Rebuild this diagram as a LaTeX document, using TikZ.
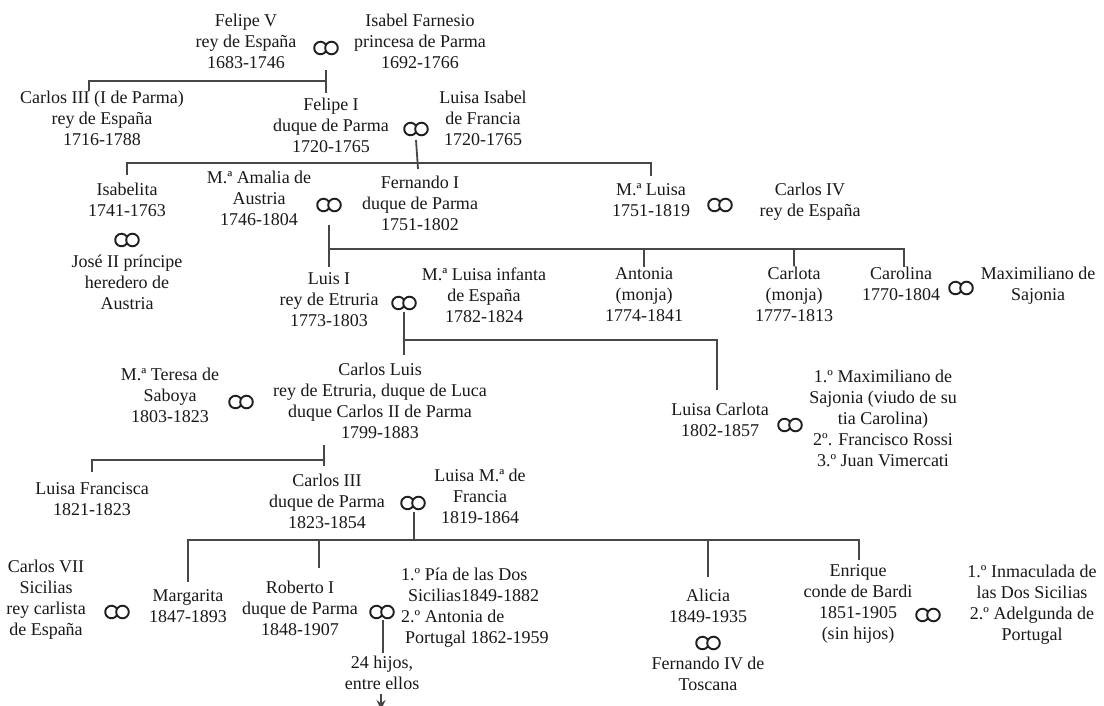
\documentclass[tikz,border=0pt]{standalone}
\usepackage{fontspec}
\setmainfont{Liberation Serif}
\usetikzlibrary{arrows.meta,calc}
\begin{document}
\begin{tikzpicture}[x=1pt,y=-1pt,
  every node/.style={font=\fontsize{18}{21}\selectfont, text=black!90, align=center, inner sep=0pt,
    execute at begin node=\strut, execute at end node=\strut},
  oo/.style={minimum width=24pt, minimum height=14pt, execute at begin node={}, execute at end node={}},
  conn/.style={draw=black!72, line width=1.8pt},
  oostroke/.style={draw=black!88, line width=1.9pt}]
\fill[white] (0,0) rectangle (1104,706);
\useasboundingbox (0,0) rectangle (1104,706);

% generation 1
\node (felipeV) at (246,44.5) {Felipe V\\rey de España\\1683-1746};
\node[oo] (m1) at (326,48) {};
\node (isabelF) at (420,44.5) {Isabel Farnesio\\princesa de Parma\\1692-1766};

% generation 2
\node (carlosIII) at (102,121.5) {Carlos III (I de Parma)\\rey de España\\1716-1788};
\node (felipeI) at (331,128) {Felipe I\\duque de Parma\\1720-1765};
\node[oo] (m2) at (416,129) {};
\node (luisaIsabel) at (483,121.5) {Luisa Isabel\\de Francia\\1720-1765};

% generation 3
\node (isabelita) at (127,203) {Isabelita\\1741-1763};
\node[oo] (m3) at (127,240) {};
\node (jose) at (127,285) {José II príncipe\\heredero de\\Austria};
\node (amalia) at (259,201) {M.ª Amalia de\\Austria\\1746-1804};
\node[oo] (m4) at (329,205) {};
\node (fernandoI) at (420,206) {Fernando I\\duque de Parma\\1751-1802};
\node (mluisa) at (651,203) {M.ª Luisa\\1751-1819};
\node[oo] (m6) at (720,205) {};
\node (carlosIV) at (810,203) {Carlos IV\\rey de España};

% generation 4
\node (luisI) at (329,302.5) {Luis I\\rey de Etruria\\1773-1803};
\node[oo] (m5) at (404,303) {};
\node (mluisaInf) at (484,298.5) {M.ª Luisa infanta\\de España\\1782-1824};
\node (antonia) at (644,297.5) {Antonia\\(monja)\\1774-1841};
\node (carlota) at (794,297.5) {Carlota\\(monja)\\1777-1813};
\node (carolina) at (901,286.5) {Carolina\\1770-1804};
\node[oo] (m7) at (961,288) {};
\node (maxi) at (1038,287) {Maximiliano de\\Sajonia};

% generation 5
\node (mteresa) at (170,398) {M.ª Teresa de\\Saboya\\1803-1823};
\node[oo] (m8) at (241,402) {};
\node (carlosLuis) at (380,403.5) {Carlos Luis\\rey de Etruria, duque de Luca\\duque Carlos II de Parma\\1799-1883};
\node (luisaCarlota) at (720,422.5) {Luisa Carlota\\1802-1857};
\node[oo] (m10) at (790,425) {};
\node (maridos) at (883,421.5) {1.º Maximiliano de\\Sajonia (viudo de su\\tia Carolina)\\2º. Francisco Rossi\\3.º Juan Vimercati};

% generation 6
\node (luisaFrancisca) at (92,502) {Luisa Francisca\\1821-1823};
\node (carlosIIIb) at (327,504) {Carlos III\\duque de Parma\\1823-1854};
\node[oo] (m9) at (413,503) {};
\node (luisaMa) at (480,499) {Luisa M.ª de\\Francia\\1819-1864};

% generation 7
\node (carlosVII) at (46,600.5) {Carlos VII\\Sicilias\\rey carlista\\de España};
\node[oo] (m11) at (117,612) {};
\node (margarita) at (188,609) {Margarita\\1847-1893};
\node (roberto) at (300,611.5) {Roberto I\\duque de Parma\\1848-1907};
\node[oo] (m12) at (382,612) {};
\node[anchor=west, align=left] (pia) at (401,608.5) {1.º Pía de las Dos\\\hspace*{7pt}Sicilias1849-1882\\2.º Antonia de\\\hspace*{4pt}Portugal 1862-1959};
\node (hijos) at (382,676) {24 hijos,\\entre ellos};
\node (alicia) at (708,609) {Alicia\\1849-1935};
\node[oo] (m13) at (708,643) {};
\node (fernandoIV) at (708,676.5) {Fernando IV de\\Toscana};
\node (enrique) at (858,605.5) {Enrique\\conde de Bardi\\1851-1905\\(sin hijos)};
\node[oo] (m14) at (928,615) {};
\node (inmaculada) at (1032,605.5) {1.º Inmaculada de\\las Dos Sicilias\\2.º Adelgunda de\\Portugal};

% marriage signs
\foreach \i in {1,...,14}{
  \draw[oostroke, shift={(m\i.center)}] (5.5,0) circle (6.3pt)
    (-5.5,0) ++(34:6.3) arc (34:326:6.3);
}

% descent lines
\draw[conn] ($(m1)+(0,22)$) -- ($(m1 |- felipeI.north)+(0,-4)$);
\coordinate (b1) at ($(m1)+(0,33)$);
\draw[conn] (b1) -| (89,91);

\draw[conn] ($(m2)+(0,11)$) -- (418,169);
\draw[conn] (127,175) |- (651,163) -- (651,176);

\draw[conn] ($(m4)+(0,20)$) -- (329,267);
\draw[conn] (329,249) -| (904,267);
\draw[conn] (644,249) -- (644,267);
\draw[conn] (794,249) -- (794,266);

\draw[conn] ($(m5)+(0,9)$) -- (404,355);
\draw[conn] (404,340) -| (717,390);

\draw[conn] (324,445) -- (324,466);
\draw[conn] (324,460) -| (92,472);

\draw[conn] ($(m9)+(1,9)$) -- (414,540);
\draw[conn] (188,582) |- (859,540) -- (859,560);
\draw[conn] (319,540) -- (319,568);
\draw[conn] (708,540) -- (708,577);

\draw[conn] ($(m12)+(1,8)$) -- (383,653);
\coordinate (arr) at (381,710);
\draw[conn, -{Stealth[length=10pt,width=9pt]}] ($(hijos.south)+(-1,-2)$) -- (arr);
\end{tikzpicture}
\end{document}
